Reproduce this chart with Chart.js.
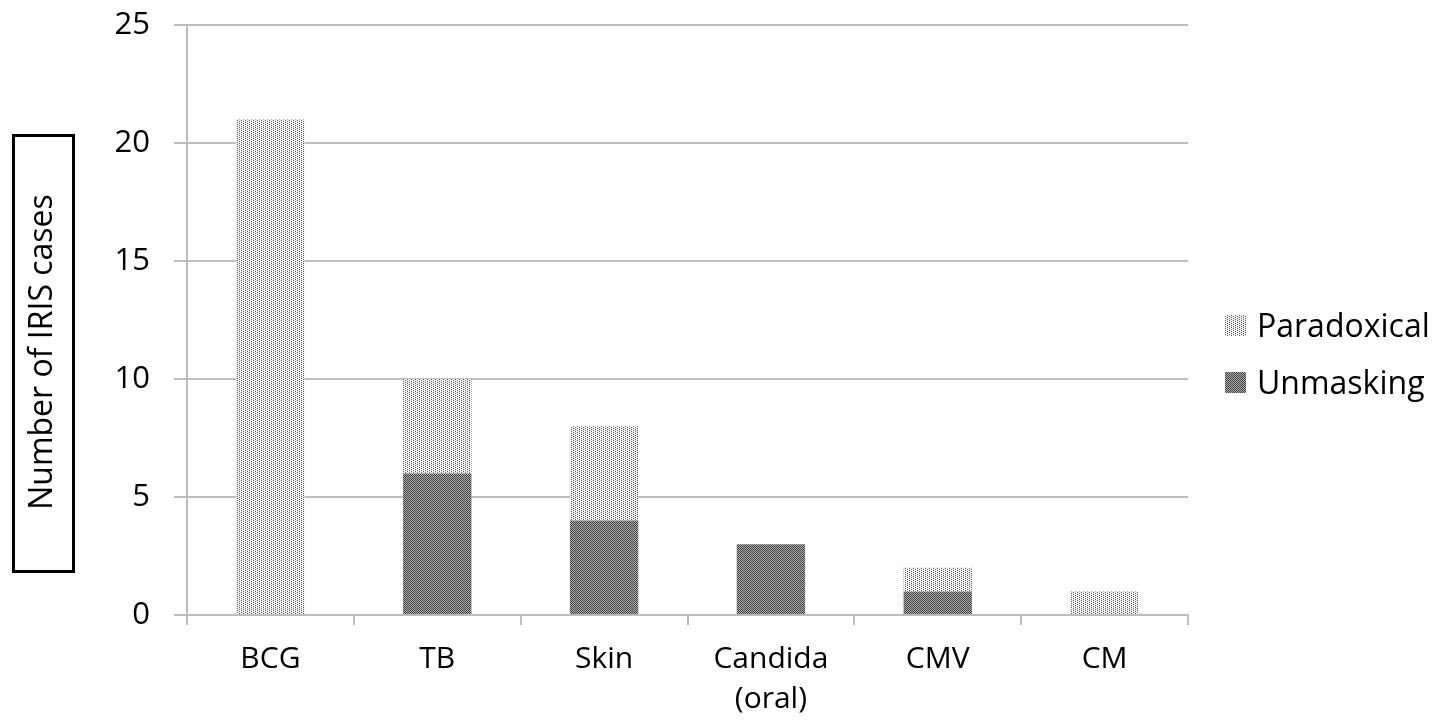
<!DOCTYPE html>
<html>
<head>
<meta charset="utf-8">
<script src="https://cdn.jsdelivr.net/npm/chart.js@4.4.1/dist/chart.umd.min.js"></script>
<style>
  html,body{margin:0;padding:0;background:#fff;}
  #wrap{width:1449px;height:722px;position:relative;}
</style>
</head>
<body>
<div id="wrap"><canvas id="c" width="1449" height="722"></canvas></div>
<script>
(function(){
  'use strict';

  // Data
  const categories = [['BCG'], ['TB'], ['Skin'], ['Candida', '(oral)'], ['CMV'], ['CM']];
  const unmasking   = [0, 6, 4, 3, 1, 0];
  const paradoxical = [21, 4, 4, 0, 1, 1];
  const yTicks = [0, 5, 10, 15, 20, 25];
  const yTitle = 'Number of IRIS cases';

  const FONT = "'Open Sans', sans-serif";
  const GRID = '#bdbdbd';

  // Fill patterns
  function makePattern(w, h, draw){
    const c = document.createElement('canvas');
    c.width = w; c.height = h;
    const g = c.getContext('2d');
    draw(g);
    return g.createPattern(c, 'repeat');
  }
  const dotted = makePattern(4, 4, g=>{
    g.fillStyle = '#f0f0f0'; g.fillRect(0,0,4,4);
    g.fillStyle = '#5e5e5e';
    g.fillRect(1,0,1,1); g.fillRect(1,2,1,1);
    g.fillRect(3,1,1,1); g.fillRect(3,3,1,1);
  });
  const checker = makePattern(2, 2, g=>{
    g.fillStyle = '#ababab'; g.fillRect(0,0,2,2);
    g.fillStyle = '#444';
    g.fillRect(0,0,1,1); g.fillRect(1,1,1,1);
  });

  // Boxed y-axis title + legend on the right
  const extras = {
    id:'extras',
    afterDraw(chart){
      const {ctx} = chart;
      ctx.save();
      ctx.strokeStyle = '#000'; ctx.lineWidth = 3;
      ctx.strokeRect(13.5, 135.5, 60, 436);
      ctx.translate(43, 352);
      ctx.rotate(-Math.PI/2);
      ctx.fillStyle = '#000';
      ctx.font = '32px ' + FONT;
      ctx.textAlign = 'center'; ctx.textBaseline = 'middle';
      ctx.fillText(yTitle, 0, 0);
      ctx.restore();

      // legend
      ctx.save();
      const items = [
        {label: chart.data.datasets[1].label, fill: chart.data.datasets[1].backgroundColor},
        {label: chart.data.datasets[0].label, fill: chart.data.datasets[0].backgroundColor}
      ];
      ctx.font = '32px ' + FONT;
      ctx.textBaseline = 'alphabetic'; ctx.textAlign = 'left';
      items.forEach((it, i)=>{
        const base = 337 + i*57;
        ctx.fillStyle = it.fill;
        ctx.fillRect(1225, base - 22, 21, 21);
        ctx.fillStyle = '#000';
        ctx.fillText(it.label, 1257, base);
      });
      ctx.restore();
    }
  };

  new Chart(document.getElementById('c'), {
    type:'bar',
    data:{
      labels: categories,
      datasets:[
        {label:'Unmasking', data: unmasking, backgroundColor: checker, borderWidth:0,
         barPercentage:0.41, categoryPercentage:1},
        {label:'Paradoxical', data: paradoxical, backgroundColor: dotted, borderWidth:0,
         barPercentage:0.41, categoryPercentage:1}
      ]
    },
    options:{
      responsive:false, animation:false, devicePixelRatio:1,
      layout:{ padding:{ left:0, top:25, right:261, bottom:0 } },
      plugins:{ legend:{ display:false }, tooltip:{ enabled:false } },
      scales:{
        x:{
          stacked:true,
          grid:{ drawOnChartArea:false, drawTicks:true, tickLength:10, color:GRID, lineWidth:2, offset:true },
          border:{ display:true, color:GRID, width:2 },
          ticks:{ color:'#000', font:{ family:FONT, size:30, lineHeight:1.33 }, padding:15, maxRotation:0, autoSkip:false },
          afterFit(s){ s.height = 107; s.paddingLeft = 0; s.paddingRight = 0; }
        },
        y:{
          stacked:true, min:0, max:25,
          afterBuildTicks(s){ s.ticks = yTicks.map(v=>({value:v})); },
          grid:{ color:GRID, lineWidth:2, tickLength:13 },
          border:{ display:true, color:GRID, width:2 },
          ticks:{ color:'#000', font:{ family:FONT, size:31 }, padding:24 },
          afterFit(s){ s.width = 187; s.paddingTop = 0; s.paddingBottom = 0; }
        }
      }
    },
    plugins:[extras]
  });
})();
</script>
</body>
</html>
